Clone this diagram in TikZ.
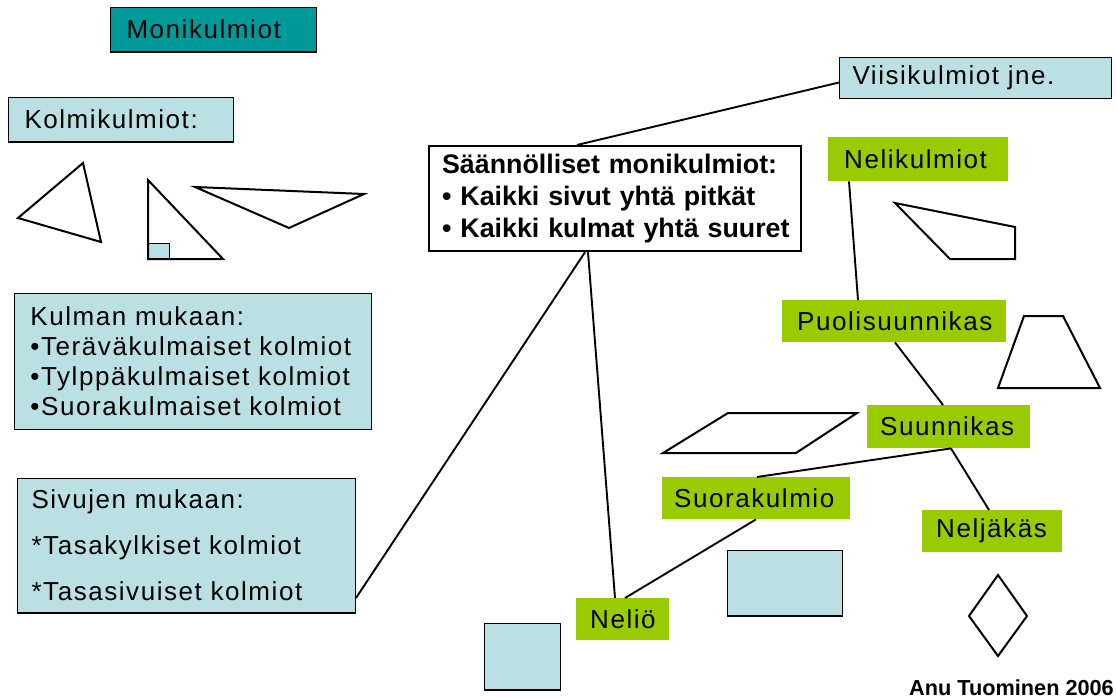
\documentclass[tikz,border=0pt]{standalone}
\usepackage{fontspec}
\setmainfont{Liberation Sans}
\newfontfamily\widefont[LetterSpace=6]{Liberation Sans}
\usetikzlibrary{calc}
\definecolor{tealbox}{RGB}{0,153,153}
\definecolor{lblue}{RGB}{187,224,227}
\definecolor{lgreen}{RGB}{153,204,0}
\begin{document}
\begin{tikzpicture}[x=1pt,y=-1pt,
  tb/.style={anchor=north west, inner ysep=0pt, align=left, font=\widefont\fontsize{26}{30}\selectfont},
  bluebox/.style={tb, fill=lblue, draw=black, line width=1pt},
  greenbox/.style={tb, fill=lgreen},
  conn/.style={line width=1.9pt},
  outline/.style={line width=2pt, line join=miter},
  shadowline/.style={line width=2.5pt}]
\useasboundingbox[fill=white] (0,0) rectangle (1116,698);

% text boxes
\node[tb, fill=tealbox, draw=black, line width=1pt, minimum width=206pt, minimum height=44pt, text width=174pt, inner xsep=16pt] (mon) at (110,7) {Monikulmiot};
\node[bluebox, minimum width=225pt, minimum height=44pt, text width=193pt, inner xsep=16pt] (kolm) at (8,97) {Kolmikulmiot:};
\node[bluebox, minimum width=357pt, minimum height=136pt, text width=325pt, inner xsep=16pt] (kulman) at (14,293)
  {\mbox{Kulman mukaan:}\\\mbox{•Teräväkulmaiset kolmiot}\\\mbox{•Tylppäkulmaiset kolmiot}\\\mbox{•Suorakulmaiset kolmiot}};
\node[bluebox, font=\widefont\fontsize{26}{46}\selectfont, minimum width=338pt, minimum height=134pt, text width=310pt, inner xsep=14pt] (siv) at (17,478)
  {\mbox{Sivujen mukaan:}\\\mbox{*Tasakylkiset kolmiot}\\\mbox{*Tasasivuiset kolmiot}};
\node[tb, fill=white, draw=black, line width=2.2pt, font=\bfseries\fontsize{26.8}{32}\selectfont, minimum width=372pt, minimum height=105pt, text width=346pt, inner xsep=13pt] (saan) at (428,145)
  {\mbox{Säännölliset monikulmiot:}\\\mbox{• Kaikki sivut yhtä pitkät}\\\mbox{• Kaikki kulmat yhtä suuret}};
\node[bluebox, minimum width=272pt, minimum height=41pt, text width=246pt, inner xsep=13pt] (viisi) at (839,57) {Viisikulmiot jne.};
\node[greenbox, minimum width=180pt, minimum height=44pt, text width=148pt, inner xsep=16pt] (neli) at (828,137) {Nelikulmiot};
\node[greenbox, minimum width=224pt, minimum height=42pt, text width=194pt, inner xsep=15pt] (puoli) at (782,300) {Puolisuunnikas};
\node[greenbox, minimum width=163pt, minimum height=43pt, text width=137pt, inner xsep=13pt] (suun) at (867,405) {Suunnikas};
\node[greenbox, minimum width=188pt, minimum height=42pt, text width=164pt, inner xsep=12pt] (suora) at (662,477) {Suorakulmio};
\node[greenbox, minimum width=140pt, minimum height=42pt, text width=112pt, inner xsep=14pt] (nelj) at (922,510) {Neljäkäs};
\node[greenbox, minimum width=93pt, minimum height=42pt, text width=65pt, inner xsep=14pt] (nelio) at (576,598) {Neliö};

% shadows under some boxes
\draw[shadowline] (mon.south west) -- (mon.south east);
\draw[shadowline] (kolm.south west) -- (kolm.south east);
\draw[shadowline] (siv.south west) -- (siv.south east);

% connectors
\draw[conn] ([xshift=149pt]saan.north west) -- ([yshift=-4.5pt]viisi.west);
\draw[conn] ([yshift=15pt]siv.south east) -- ([xshift=157pt]saan.south west);
\draw[conn] ([xshift=160pt]saan.south west) -- ([xshift=39pt]nelio.north west);
\draw[conn] ([xshift=21pt]neli.south west) -- ([xshift=76pt]puoli.north west);
\draw[conn] ([xshift=113pt]puoli.south west) -- ([xshift=76pt]suun.north west);
\draw[conn] ([xshift=84pt]suun.south west) -- ([xshift=95pt]suora.north west);
\draw[conn] ([xshift=84pt]suun.south west) -- ([xshift=67pt]nelj.north west);
\draw[conn] ([xshift=94pt]suora.south west) -- ([xshift=49pt]nelio.north west);

% triangles
\draw[outline] (18,218) -- (83,163) -- (101,242) -- cycle;
\fill[lblue] (148,243) rectangle (169,259);
\draw[line width=1pt] (148,243) rectangle (169,259);
\draw[outline] (148,180) -- (148,259) -- (223,259) -- cycle;
\draw[outline] (195,187) -- (364,194) -- (289,228) -- cycle;

% quadrilaterals
\draw[outline] (895,203) -- (1015,227) -- (1015,259) -- (950,259) -- cycle;
\draw[outline] (998,388) -- (1024,316) -- (1063,316) -- (1100,388) -- cycle;
\draw[outline] (663,453) -- (728,413) -- (857,413) -- (796,453) -- cycle;
\draw[outline] (998,575) -- (1027,616) -- (998,656) -- (969,616) -- cycle;
\draw[fill=lblue, line width=1pt] (727,550) rectangle (842,616);
\draw[shadowline] (727,616) -- (842,616);
\draw[fill=lblue, line width=1pt] (484,623) rectangle (560,690);
\draw[shadowline] (484,690) -- (560,690);

% credit
\node[anchor=base east, inner sep=0pt, font=\bfseries\fontsize{21.7}{22}\selectfont] (credit) at (1114,695) {Anu Tuominen 2006};
\end{tikzpicture}
\end{document}
